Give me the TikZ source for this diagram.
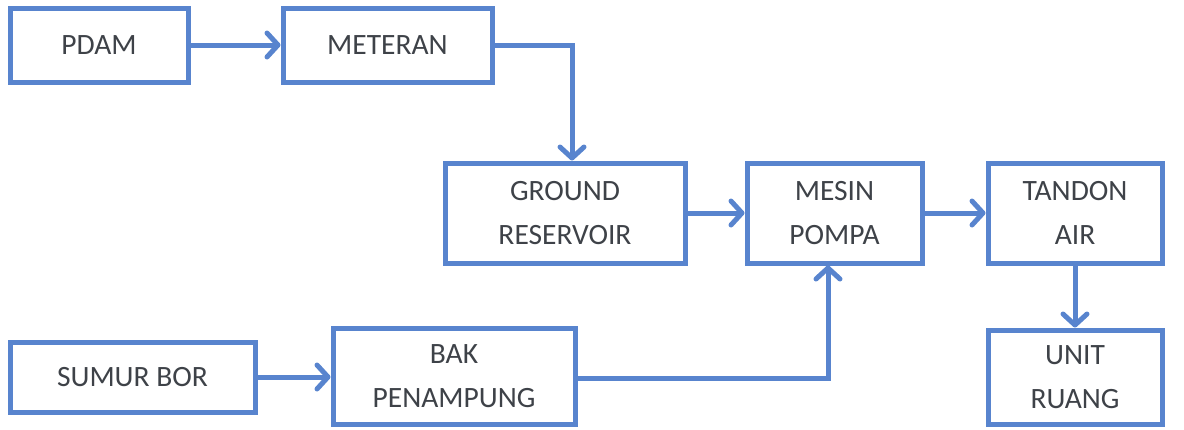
\documentclass[tikz,border=0pt]{standalone}
\usepackage{fontspec}
\setmainfont{Carlito}
\usetikzlibrary{arrows.meta}
\definecolor{biru}{RGB}{88,132,206}
\definecolor{tinta}{RGB}{62,66,72}
\begin{document}
\begin{tikzpicture}[x=1pt,y=-1pt]
% Gaya
\tikzset{kotak/.style={draw=biru,line width=5pt,text=tinta,align=center,inner sep=0pt,font=\fontsize{29.5}{44}\selectfont}}
\tikzset{panah/.style={draw=biru,line width=5pt,-{Straight Barb[round,length=11pt,width=24pt]}}}
\useasboundingbox (0,0) rectangle (1184,429);
% Simpul
\node[kotak,minimum width=178pt,minimum height=74pt] (pdam) at (99,45) {PDAM};
\node[kotak,minimum width=209pt,minimum height=74pt] (meteran) at (387.5,45) {METERAN};
\node[kotak,minimum width=240pt,minimum height=100pt] (ground) at (565,213) {GROUND\\RESERVOIR};
\node[kotak,minimum width=175pt,minimum height=100pt] (mesin) at (834.5,213) {MESIN\\POMPA};
\node[kotak,minimum width=174pt,minimum height=100pt] (tandon) at (1075,213) {TANDON\\AIR};
\node[kotak,minimum width=174pt,minimum height=94pt] (unit) at (1075,377) {UNIT\\RUANG};
\node[kotak,minimum width=245pt,minimum height=70pt] (sumur) at (132.5,377) {SUMUR BOR};
\node[kotak,minimum width=242pt,minimum height=96pt] (bak) at (454,376) {BAK\\PENAMPUNG};
\coordinate (belokA) at (572,45);
\coordinate (belokB) at (828,378);
% Panah
\draw[panah] (pdam.east)--(meteran.west);
\draw[panah] (meteran.east)--(belokA)--(belokA |- ground.north);
\draw[panah] (ground.east)--(mesin.west);
\draw[panah] (mesin.east)--(tandon.west);
\draw[panah] (tandon.south)--(unit.north);
\draw[panah] (sumur.east)--(sumur.east -| bak.west);
\draw[panah] (bak.east |- belokB)--(belokB)--(belokB |- mesin.south);
\end{tikzpicture}
\end{document}
